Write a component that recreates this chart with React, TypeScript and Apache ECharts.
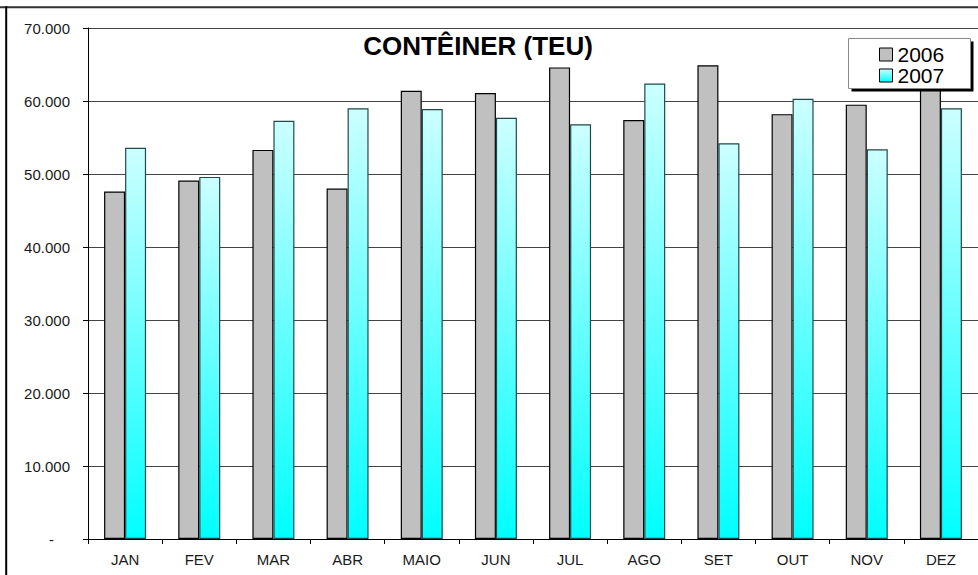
import React, { useEffect, useRef } from "react";
import * as echarts from "echarts";

const categories = ["JAN", "FEV", "MAR", "ABR", "MAIO", "JUN", "JUL", "AGO", "SET", "OUT", "NOV", "DEZ"];
const seriesNames = ["2006", "2007"];
const values2006 = [47600, 49100, 53300, 48000, 61400, 61100, 64600, 57400, 64900, 58200, 59500, 62500];
const values2007 = [53600, 49600, 57300, 59000, 58900, 57700, 56800, 62400, 54200, 60300, 53400, 59000];
const yTicks = { min: 0, max: 70000, interval: 10000 };
const titleText = "CONTÊINER (TEU)";

const FONT = "'Liberation Sans', Arial, Helvetica, sans-serif";

const cyanGradient = () =>
  new echarts.graphic.LinearGradient(0, 0, 0, 1, [
    { offset: 0, color: "#ccffff" },
    { offset: 1, color: "#00ffff" },
  ]);

const formatY = (v: number) => {
  if (v === 0) return "{z|-}";
  const s = Math.round(v).toString();
  return s.replace(/\B(?=(\d{3})+(?!\d))/g, ".");
};

export default function App() {
  const ref = useRef<HTMLDivElement>(null);
  useEffect(() => {
    if (!ref.current) return;
    const chart = echarts.init(ref.current, undefined, { renderer: "svg" });
    chart.setOption({
      animation: false,
      backgroundColor: "#ffffff",
      grid: { left: 88, right: -8, top: 28, bottom: 36, containLabel: false },
      xAxis: {
        type: "category",
        data: categories,
        axisLine: { show: true, lineStyle: { color: "#000", width: 1 } },
        axisTick: { show: true, length: 5, lineStyle: { color: "#000" } },
        axisLabel: { color: "#1a1a1a", fontSize: 15, fontFamily: FONT, margin: 13 },
        splitLine: { show: false },
      },
      yAxis: {
        type: "value",
        min: yTicks.min,
        max: yTicks.max,
        interval: yTicks.interval,
        axisLine: { show: true, lineStyle: { color: "#000", width: 1 } },
        axisTick: { show: true, length: 5, lineStyle: { color: "#000" } },
        axisLabel: {
          color: "#1a1a1a",
          fontSize: 15,
          fontFamily: FONT,
          margin: 18,
          formatter: formatY,
          rich: { z: { fontSize: 15, fontFamily: FONT, color: "#1a1a1a", padding: [0, 16, 0, 0] } },
        },
        splitLine: { show: true, lineStyle: { color: "#444", width: 1 } },
      },
      legend: {
        orient: "vertical",
        left: 848,
        top: 38,
        padding: [6, 10, 3, 31],
        itemGap: 0,
        itemWidth: 13,
        itemHeight: 13,
        itemTextGap: 4,
        z: 4,
        textStyle: { fontSize: 21, lineHeight: 21, color: "#000", fontFamily: FONT },
        data: [
          { name: seriesNames[0], icon: "rect", itemStyle: { color: "#c0c0c0", borderColor: "#000", borderWidth: 1 } },
          { name: seriesNames[1], icon: "rect", itemStyle: { color: cyanGradient(), borderColor: "#000", borderWidth: 1 } },
        ],
      },
      graphic: [
        { type: "line", shape: { x1: 0, y1: 7.3, x2: 978, y2: 7.3 }, style: { stroke: "#333", lineWidth: 2 }, z: 10 },
        { type: "line", shape: { x1: 6.2, y1: 6.3, x2: 6.2, y2: 575 }, style: { stroke: "#000", lineWidth: 2 }, z: 10 },
        { type: "rect", shape: { x: 851.5, y: 41.5, width: 122, height: 50 }, style: { fill: "#000" }, z: 3 },
        { type: "rect", shape: { x: 848.5, y: 38.5, width: 122, height: 50 }, style: { fill: "#fff", stroke: "#888", lineWidth: 1 }, z: 3.5 },
        {
          type: "text",
          x: 478,
          y: 46,
          z: 5,
          style: {
            text: titleText,
            font: `bold 26px ${FONT}`,
            fill: "#000",
            align: "center",
            verticalAlign: "middle",
          },
        },
      ],
      series: [
        {
          name: seriesNames[0],
          type: "bar",
          data: values2006,
          barWidth: 21,
          barGap: "0%",
          itemStyle: { color: "#c0c0c0", borderColor: "#000", borderWidth: 1.2 },
        },
        {
          name: seriesNames[1],
          type: "bar",
          data: values2007,
          barWidth: 21,
          barGap: "0%",
          itemStyle: { color: cyanGradient(), borderColor: "#1f4a4a", borderWidth: 1.2 },
        },
      ],
    });
    return () => chart.dispose();
  }, []);
  return <div ref={ref} style={{ position: "fixed", left: 0, top: 0, width: 978, height: 575 }} />;
}
